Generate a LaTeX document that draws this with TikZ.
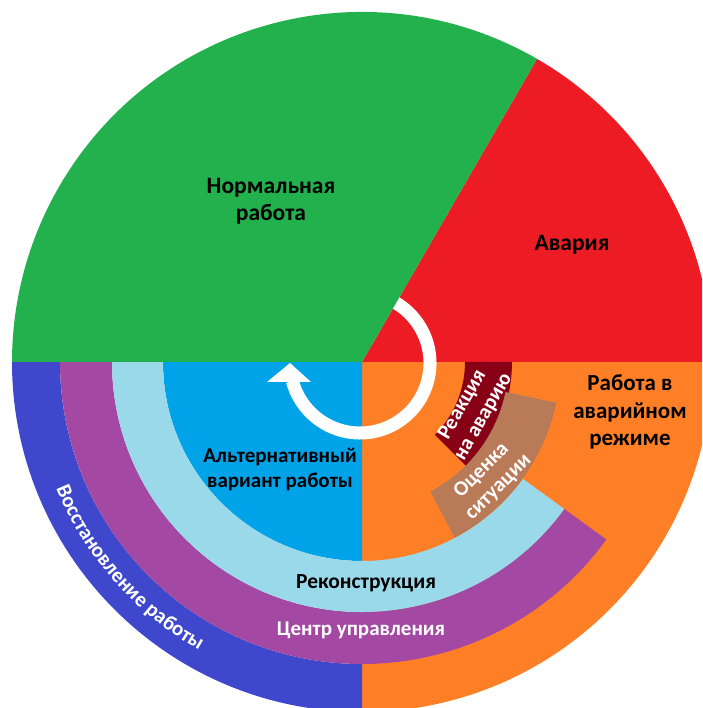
\documentclass[tikz,border=0pt]{standalone}
\usepackage{fontspec}
\setmainfont{Carlito}
\usetikzlibrary{calc,decorations.text}
\definecolor{cgreen}{HTML}{22B14C}
\definecolor{cred}{HTML}{ED1C24}
\definecolor{corange}{HTML}{FF7F27}
\definecolor{cindigo}{HTML}{3F48CC}
\definecolor{cpurple}{HTML}{A349A4}
\definecolor{clblue}{HTML}{99D9EA}
\definecolor{cblue}{HTML}{00A2E8}
\definecolor{cdred}{HTML}{880015}
\definecolor{cbrown}{HTML}{B97A57}
\newcommand\mysector[4]{% colour, a1, a2, r
  \fill[#1] (0,0) -- (#2:#4) arc[start angle=#2,end angle=#3,radius=#4] -- cycle;}
\newcommand\myring[6][]{% opts, colour, a1, a2, r1, r2
  \fill[#2,#1] (#3:#5) arc[start angle=#3,end angle=#4,radius=#5] -- (#4:#6) arc[start angle=#4,end angle=#3,radius=#6] -- cycle;}
\newcommand\fs[2]{\bfseries\fontsize{#1}{#2}\selectfont}
\begin{document}
\begin{tikzpicture}[x=1pt,y=1pt,
  lbl/.style={font=\fs{21}{26}, align=center, text=black, inner sep=0pt},
  wlbl/.style={lbl, text=white}]
\useasboundingbox (0,0) rectangle (702,708);
\clip (0,0) rectangle (702,708);
\begin{scope}[shift={(362,346)}]
  % sectors
  \mysector{corange}{-90}{0}{350}
  \mysector{cred}{0}{60}{350}
  \mysector{cblue}{180}{270}{199}
  \myring{cindigo}{180}{270}{302}{350}
  \myring{cpurple}{180}{324}{250}{302}
  \myring{clblue}{180}{324}{199}{250}
  \myring{cdred}{-45}{0}{103}{150}
  \myring[draw=cbrown!80!gray,line width=0.8pt]{cbrown}{-62}{-12}{147}{198}
  % circular arrow
  \coordinate (ac) at (-2,-1);
  \draw[white,line width=13pt] ($(ac)+(75:70)$) arc[start angle=75,end angle=-165,radius=70];
  \fill[white] (-72,-1) -- (-95,-20) -- (-51,-20) -- cycle;
  % green on top
  \mysector{cgreen}{60}{180}{350}
  % labels
  \node[lbl,font=\fs{23.5}{27}] (norm) at (-91,161) {Нормальная\\работа};
  \node[lbl,font=\fs{23.5}{27}] (avar) at (210,117) {Авария};
  \node[lbl,font=\fs{23}{27.5}] (rabav) at (268,-50) {Работа в\\аварийном\\режиме};
  \node[lbl,font=\fs{21}{25}] (alt) at (-82,-107.5) {Альтернативный\\вариант работы};
  \node[lbl,font=\fs{21.5}{26}] (rek) at (4,-221) {Реконструкция};
  \node[wlbl,font=\fs{21}{26}] (cent) at (-1,-268) {Центр управления};
  \node[wlbl,rotate=60,font=\fs{21}{24}] (reak) at (111,-49) {Реакция\\на аварию};
  \node[wlbl,rotate=45,font=\fs{21}{24}] (ots) at (128,-117) {Оценка\\ситуации};
  \path[decorate,decoration={text along path,text align=center,
    text={|\fs{21}{25}\color{white}|Восстановление работы}}]
    (194:331) arc[start angle=194,end angle=249,radius=331];
\end{scope}
\end{tikzpicture}
\end{document}
